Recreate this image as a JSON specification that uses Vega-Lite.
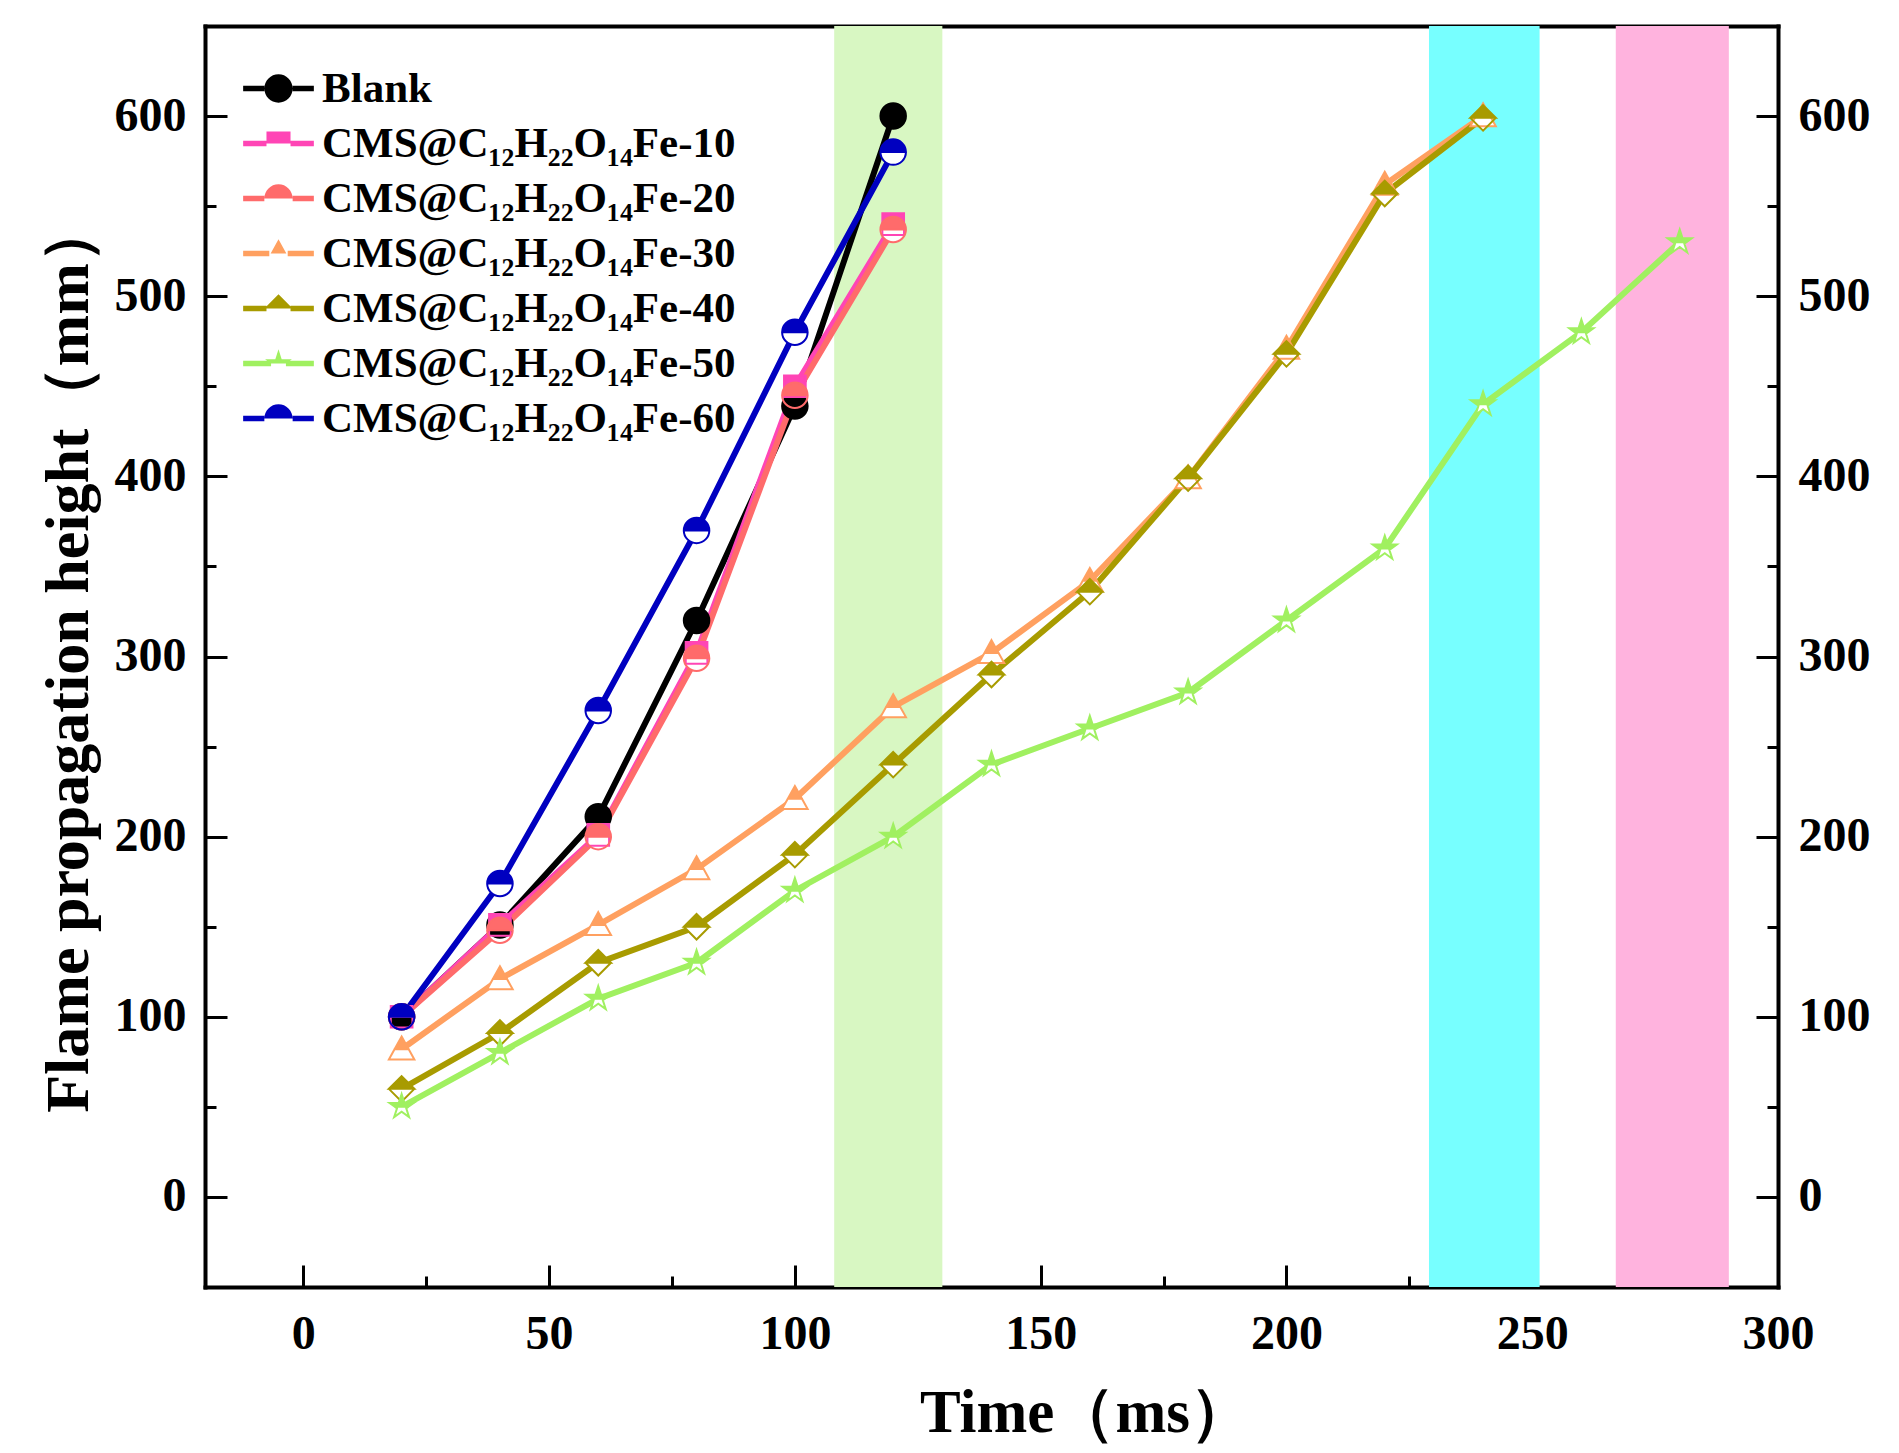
{
  "$schema": "https://vega.github.io/schema/vega-lite/v6.json",
  "width": 1573,
  "height": 1261,
  "autosize": {"type": "none"},
  "padding": {"left": 205, "top": 26, "right": 121, "bottom": 166},
  "background": "white",
  "config": {
    "view": {"stroke": null},
    "font": "Liberation Serif",
    "axis": {
      "grid": false,
      "zindex": 1,
      "domainColor": "#000000",
      "domainWidth": 4,
      "domainCap": "square",
      "tickColor": "#000000",
      "tickWidth": 3,
      "labelFont": "Liberation Serif",
      "labelFontSize": 48,
      "labelFontWeight": "bold",
      "labelColor": "#000000",
      "labelFlush": false,
      "labelOverlap": false,
      "labelBound": false,
      "titleFont": "Liberation Serif",
      "titleFontWeight": "bold",
      "titleColor": "#000000"
    }
  },
  "datasets": {
    "bands": [
      {"band": "g", "start": 108, "end": 130},
      {"band": "c", "start": 229, "end": 251.5},
      {"band": "p", "start": 267, "end": 290}
    ],
    "series": [
      {"series": "Blank", "time": 20, "height": 100},
      {"series": "Blank", "time": 40, "height": 151},
      {"series": "Blank", "time": 60, "height": 211},
      {"series": "Blank", "time": 80, "height": 320},
      {"series": "Blank", "time": 100, "height": 439},
      {"series": "Blank", "time": 120, "height": 600},
      {"series": "CMS@C₁₂H₂₂O₁₄Fe-10", "time": 20, "height": 100},
      {"series": "CMS@C₁₂H₂₂O₁₄Fe-10", "time": 40, "height": 151},
      {"series": "CMS@C₁₂H₂₂O₁₄Fe-10", "time": 60, "height": 201},
      {"series": "CMS@C₁₂H₂₂O₁₄Fe-10", "time": 80, "height": 302},
      {"series": "CMS@C₁₂H₂₂O₁₄Fe-10", "time": 100, "height": 450},
      {"series": "CMS@C₁₂H₂₂O₁₄Fe-10", "time": 120, "height": 540},
      {"series": "CMS@C₁₂H₂₂O₁₄Fe-20", "time": 20, "height": 100},
      {"series": "CMS@C₁₂H₂₂O₁₄Fe-20", "time": 40, "height": 148},
      {"series": "CMS@C₁₂H₂₂O₁₄Fe-20", "time": 60, "height": 200},
      {"series": "CMS@C₁₂H₂₂O₁₄Fe-20", "time": 80, "height": 299},
      {"series": "CMS@C₁₂H₂₂O₁₄Fe-20", "time": 100, "height": 445},
      {"series": "CMS@C₁₂H₂₂O₁₄Fe-20", "time": 120, "height": 537},
      {"series": "CMS@C₁₂H₂₂O₁₄Fe-30", "time": 20, "height": 82},
      {"series": "CMS@C₁₂H₂₂O₁₄Fe-30", "time": 40, "height": 121},
      {"series": "CMS@C₁₂H₂₂O₁₄Fe-30", "time": 60, "height": 151},
      {"series": "CMS@C₁₂H₂₂O₁₄Fe-30", "time": 80, "height": 182},
      {"series": "CMS@C₁₂H₂₂O₁₄Fe-30", "time": 100, "height": 221},
      {"series": "CMS@C₁₂H₂₂O₁₄Fe-30", "time": 120, "height": 272},
      {"series": "CMS@C₁₂H₂₂O₁₄Fe-30", "time": 140, "height": 302},
      {"series": "CMS@C₁₂H₂₂O₁₄Fe-30", "time": 160, "height": 342},
      {"series": "CMS@C₁₂H₂₂O₁₄Fe-30", "time": 180, "height": 399},
      {"series": "CMS@C₁₂H₂₂O₁₄Fe-30", "time": 200, "height": 471},
      {"series": "CMS@C₁₂H₂₂O₁₄Fe-30", "time": 220, "height": 562},
      {"series": "CMS@C₁₂H₂₂O₁₄Fe-30", "time": 240, "height": 600},
      {"series": "CMS@C₁₂H₂₂O₁₄Fe-40", "time": 20, "height": 60},
      {"series": "CMS@C₁₂H₂₂O₁₄Fe-40", "time": 40, "height": 91},
      {"series": "CMS@C₁₂H₂₂O₁₄Fe-40", "time": 60, "height": 130},
      {"series": "CMS@C₁₂H₂₂O₁₄Fe-40", "time": 80, "height": 150},
      {"series": "CMS@C₁₂H₂₂O₁₄Fe-40", "time": 100, "height": 190},
      {"series": "CMS@C₁₂H₂₂O₁₄Fe-40", "time": 120, "height": 240},
      {"series": "CMS@C₁₂H₂₂O₁₄Fe-40", "time": 140, "height": 290},
      {"series": "CMS@C₁₂H₂₂O₁₄Fe-40", "time": 160, "height": 336},
      {"series": "CMS@C₁₂H₂₂O₁₄Fe-40", "time": 180, "height": 399},
      {"series": "CMS@C₁₂H₂₂O₁₄Fe-40", "time": 200, "height": 468},
      {"series": "CMS@C₁₂H₂₂O₁₄Fe-40", "time": 220, "height": 557},
      {"series": "CMS@C₁₂H₂₂O₁₄Fe-40", "time": 240, "height": 599},
      {"series": "CMS@C₁₂H₂₂O₁₄Fe-50", "time": 20, "height": 50},
      {"series": "CMS@C₁₂H₂₂O₁₄Fe-50", "time": 40, "height": 80},
      {"series": "CMS@C₁₂H₂₂O₁₄Fe-50", "time": 60, "height": 110},
      {"series": "CMS@C₁₂H₂₂O₁₄Fe-50", "time": 80, "height": 130},
      {"series": "CMS@C₁₂H₂₂O₁₄Fe-50", "time": 100, "height": 170},
      {"series": "CMS@C₁₂H₂₂O₁₄Fe-50", "time": 120, "height": 200},
      {"series": "CMS@C₁₂H₂₂O₁₄Fe-50", "time": 140, "height": 240},
      {"series": "CMS@C₁₂H₂₂O₁₄Fe-50", "time": 160, "height": 260},
      {"series": "CMS@C₁₂H₂₂O₁₄Fe-50", "time": 180, "height": 280},
      {"series": "CMS@C₁₂H₂₂O₁₄Fe-50", "time": 200, "height": 320},
      {"series": "CMS@C₁₂H₂₂O₁₄Fe-50", "time": 220, "height": 360},
      {"series": "CMS@C₁₂H₂₂O₁₄Fe-50", "time": 240, "height": 440},
      {"series": "CMS@C₁₂H₂₂O₁₄Fe-50", "time": 260, "height": 480},
      {"series": "CMS@C₁₂H₂₂O₁₄Fe-50", "time": 280, "height": 530},
      {"series": "CMS@C₁₂H₂₂O₁₄Fe-60", "time": 20, "height": 100},
      {"series": "CMS@C₁₂H₂₂O₁₄Fe-60", "time": 40, "height": 174},
      {"series": "CMS@C₁₂H₂₂O₁₄Fe-60", "time": 60, "height": 270},
      {"series": "CMS@C₁₂H₂₂O₁₄Fe-60", "time": 80, "height": 370},
      {"series": "CMS@C₁₂H₂₂O₁₄Fe-60", "time": 100, "height": 480},
      {"series": "CMS@C₁₂H₂₂O₁₄Fe-60", "time": 120, "height": 580}
    ]
  },
  "layer": [
    {
      "data": {"name": "bands"},
      "mark": {"type": "rect"},
      "encoding": {
        "x": {
          "field": "start", "type": "quantitative",
          "scale": {"domain": [-20, 300], "nice": false, "zero": false},
          "axis": {
            "orient": "bottom",
            "values": [0, 25, 50, 75, 100, 125, 150, 175, 200, 225, 250, 275, 300],
            "labelExpr": "datum.value % 50 === 0 ? datum.label : ''",
            "tickSize": {"condition": {"test": "datum.value % 50 !== 0", "value": -11}, "value": -22},
            "labelPadding": 45,
            "title": "Time（ms）",
            "titleFontSize": 61,
            "titlePadding": 14,
            "titleX": 880
          }
        },
        "x2": {"field": "end"},
        "fill": {
          "field": "band", "type": "nominal",
          "scale": {"domain": ["g", "c", "p"], "range": ["#D8F7C2", "#77FFFF", "#FFB3DE"]},
          "legend": null
        }
      }
    },
    {
      "data": {"name": "series"},
      "mark": {"type": "line", "strokeWidth": 6},
      "encoding": {
        "x": {
          "field": "time", "type": "quantitative",
          "scale": {"domain": [-20, 300], "nice": false, "zero": false},
          "axis": {"orient": "top", "ticks": false, "labels": false, "title": null}
        },
        "y": {
          "field": "height", "type": "quantitative",
          "scale": {"domain": [-50, 650], "nice": false, "zero": false},
          "axis": {
            "orient": "left",
            "values": [0, 50, 100, 150, 200, 250, 300, 350, 400, 450, 500, 550, 600],
            "labelExpr": "datum.value % 100 === 0 ? datum.label : ''",
            "tickSize": {"condition": {"test": "datum.value % 100 !== 0", "value": -11}, "value": -22},
            "labelPadding": 41,
            "title": "Flame propagation height（mm）",
            "titleFontSize": 62,
            "titlePadding": 14
          }
        },
        "stroke": {
          "field": "series", "type": "nominal",
          "scale": {
            "range": ["#000000", "#FF45B5", "#FF6B6B", "#FFA060", "#A89B00", "#A0F060", "#0000C0"]
          },
          "legend": null
        }
      }
    },
    {
      "data": {"name": "series"},
      "mark": {"type": "point", "filled": true, "size": 650, "opacity": 1, "fill": "#FFFFFF", "strokeWidth": 0},
      "encoding": {
        "x": {
          "field": "time", "type": "quantitative",
          "scale": {"domain": [-20, 300], "nice": false, "zero": false},
          "axis": null
        },
        "y": {
          "field": "height", "type": "quantitative",
          "scale": {"domain": [-50, 650], "nice": false, "zero": false},
          "axis": {
            "orient": "right",
            "values": [0, 50, 100, 150, 200, 250, 300, 350, 400, 450, 500, 550, 600],
            "labelExpr": "datum.value % 100 === 0 ? datum.label : ''",
            "tickSize": {"condition": {"test": "datum.value % 100 !== 0", "value": -11}, "value": -22},
            "labelPadding": 42,
            "title": null
          }
        },
        "shape": {
          "field": "series", "type": "nominal",
          "scale": {
            "range": [
              "M-1,0A1,1 0 1 1 1,0A1,1 0 1 1 -1,0Z",
              "M-0.85,-0.85H0.85V0.85H-0.85Z",
              "M-1,0A1,1 0 1 1 1,0A1,1 0 1 1 -1,0Z",
              "M0,-1L1,0.8H-1Z",
              "M0,-1L1,0L0,1L-1,0Z",
              "M0,-1L0.2245,-0.309L0.951,-0.309L0.363,0.118L0.588,0.809L0,0.382L-0.588,0.809L-0.363,0.118L-0.951,-0.309L-0.2245,-0.309Z",
              "M-1,0A1,1 0 1 1 1,0A1,1 0 1 1 -1,0Z"
            ]
          },
          "legend": null
        }
      }
    },
    {
      "data": {"name": "series"},
      "mark": {"type": "point", "filled": true, "size": 650, "opacity": 1, "strokeWidth": 2},
      "encoding": {
        "x": {
          "field": "time", "type": "quantitative",
          "scale": {"domain": [-20, 300], "nice": false, "zero": false},
          "axis": null
        },
        "y": {
          "field": "height", "type": "quantitative",
          "scale": {"domain": [-50, 650], "nice": false, "zero": false},
          "axis": null
        },
        "stroke": {"field": "series", "type": "nominal", "legend": null},
        "color": {
          "field": "series", "type": "nominal",
          "scale": {
            "range": ["#000000", "#FF45B5", "#FF6B6B", "#FFA060", "#A89B00", "#A0F060", "#0000C0"]
          },
          "legend": null
        },
        "shape": {
          "field": "series", "type": "nominal",
          "scale": {
            "range": [
              "M-1,0A1,1 0 1 1 1,0A1,1 0 1 1 -1,0Z",
              "M-0.85,-0.85H0.85V0H-0.85Z M-0.85,0V0.85H0.85V0V0.85H-0.85V0",
              "M-1,0A1,1 0 0 1 1,0Z M-1,0A1,1 0 0 0 1,0A1,1 0 0 1 -1,0",
              "M0,-1L0.556,0H-0.556Z M-0.556,0L-1,0.8H1L0.556,0L1,0.8H-1L-0.556,0",
              "M0,-1L1,0H-1Z M-1,0L0,1L1,0L0,1L-1,0",
              "M0,-1L0.2245,-0.309L0.951,-0.309L0.5255,0H-0.5255L-0.951,-0.309L-0.2245,-0.309Z M0.5255,0L0.363,0.118L0.588,0.809L0,0.382L-0.588,0.809L-0.363,0.118L-0.5255,0L-0.363,0.118L-0.588,0.809L0,0.382L0.588,0.809L0.363,0.118L0.5255,0",
              "M-1,0A1,1 0 0 1 1,0Z M-1,0A1,1 0 0 0 1,0A1,1 0 0 1 -1,0"
            ]
          },
          "legend": null
        }
      }
    },
    {
      "data": {"name": "series"},
      "transform": [{"filter": "datum.time < 0"}],
      "mark": {"type": "point", "filled": true, "size": 800, "opacity": 1},
      "encoding": {
        "x": {
          "field": "time", "type": "quantitative",
          "scale": {"domain": [-20, 300], "nice": false, "zero": false},
          "axis": null
        },
        "y": {
          "field": "height", "type": "quantitative",
          "scale": {"domain": [-50, 650], "nice": false, "zero": false},
          "axis": null
        },
        "color": {
          "field": "series", "type": "nominal",
          "scale": {
            "domain": ["Blank", "CMS@C₁₂H₂₂O₁₄Fe-10", "CMS@C₁₂H₂₂O₁₄Fe-20", "CMS@C₁₂H₂₂O₁₄Fe-30", "CMS@C₁₂H₂₂O₁₄Fe-40", "CMS@C₁₂H₂₂O₁₄Fe-50", "CMS@C₁₂H₂₂O₁₄Fe-60"],
            "range": ["#000000", "#FF45B5", "#FF6B6B", "#FFA060", "#A89B00", "#A0F060", "#0000C0"]
          },
          "legend": {
            "title": null,
            "orient": "none",
            "legendX": 52,
            "legendY": 41,
            "padding": 0,
            "labelFont": "Liberation Serif",
            "labelFontSize": 43,
            "labelFontWeight": "bold",
            "labelColor": "#000000",
            "labelLimit": 800,
            "labelOffset": 22,
            "symbolSize": 800,
            "symbolOpacity": 1,
            "rowPadding": 11
          }
        },
        "shape": {
          "field": "series", "type": "nominal",
          "scale": {
            "domain": ["Blank", "CMS@C₁₂H₂₂O₁₄Fe-10", "CMS@C₁₂H₂₂O₁₄Fe-20", "CMS@C₁₂H₂₂O₁₄Fe-30", "CMS@C₁₂H₂₂O₁₄Fe-40", "CMS@C₁₂H₂₂O₁₄Fe-50", "CMS@C₁₂H₂₂O₁₄Fe-60"],
            "range": [
              "M-2.5,-0.2H-1V0.2H-2.5Z M1,-0.2H2.5V0.2H1Z M-1,0A1,1 0 1 1 1,0A1,1 0 1 1 -1,0Z",
              "M-2.5,-0.2H-0.85V0.2H-2.5Z M0.85,-0.2H2.5V0.2H0.85Z M-0.85,-0.85H0.85V0H-0.85Z M-0.85,0V0.85H0.85V0V0.85H-0.85V0",
              "M-2.5,-0.2H-1V0.2H-2.5Z M1,-0.2H2.5V0.2H1Z M-1,0A1,1 0 0 1 1,0Z M-1,0A1,1 0 0 0 1,0A1,1 0 0 1 -1,0",
              "M-2.5,-0.2H-0.65V0.2H-2.5Z M0.65,-0.2H2.5V0.2H0.65Z M0,-1L0.556,0H-0.556Z M-0.556,0L-1,0.8H1L0.556,0L1,0.8H-1L-0.556,0",
              "M-2.5,-0.2H-0.85V0.2H-2.5Z M0.85,-0.2H2.5V0.2H0.85Z M0,-1L1,0H-1Z M-1,0L0,1L1,0L0,1L-1,0",
              "M-2.5,-0.2H-0.5255V0.2H-2.5Z M0.5255,-0.2H2.5V0.2H0.5255Z M0,-1L0.2245,-0.309L0.951,-0.309L0.5255,0H-0.5255L-0.951,-0.309L-0.2245,-0.309Z M0.5255,0L0.363,0.118L0.588,0.809L0,0.382L-0.588,0.809L-0.363,0.118L-0.5255,0L-0.363,0.118L-0.588,0.809L0,0.382L0.588,0.809L0.363,0.118L0.5255,0",
              "M-2.5,-0.2H-1V0.2H-2.5Z M1,-0.2H2.5V0.2H1Z M-1,0A1,1 0 0 1 1,0Z M-1,0A1,1 0 0 0 1,0A1,1 0 0 1 -1,0"
            ]
          },
          "legend": {
            "title": null,
            "orient": "none",
            "legendX": 52,
            "legendY": 41,
            "padding": 0,
            "labelFont": "Liberation Serif",
            "labelFontSize": 43,
            "labelFontWeight": "bold",
            "labelColor": "#000000",
            "labelLimit": 800,
            "labelOffset": 22,
            "symbolSize": 800,
            "symbolOpacity": 1,
            "rowPadding": 11
          }
        }
      }
    }
  ],
  "resolve": {
    "scale": {"shape": "independent", "color": "independent"},
    "axis": {"x": "independent", "y": "independent"}
  }
}
